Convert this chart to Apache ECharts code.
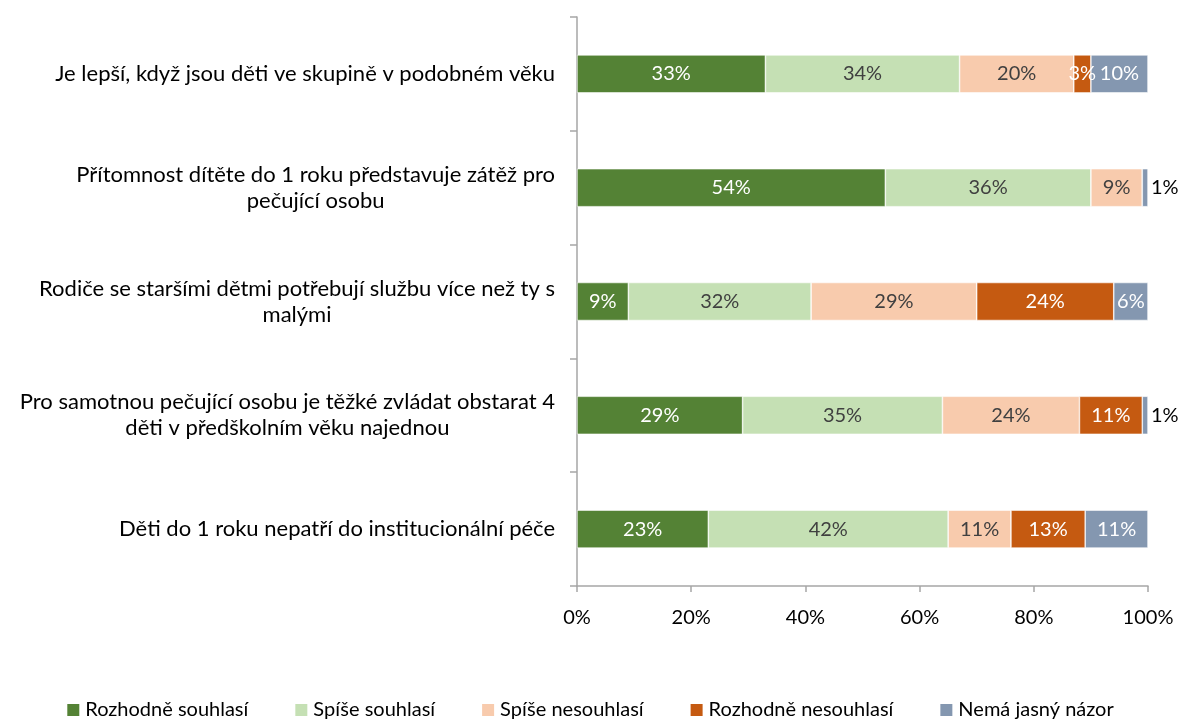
<!DOCTYPE html>
<html>
<head>
<meta charset="utf-8">
<script src="https://cdn.jsdelivr.net/npm/echarts@6/dist/echarts.min.js"></script>
<style>
html,body{margin:0;padding:0;background:#fff;}
#chart{width:1179px;height:720px;}
</style>
</head>
<body>
<div id="chart"></div>
<script>
var categories = [
	'Je lepší, když jsou děti ve skupině v podobném věku',
	'Přítomnost dítěte do 1 roku představuje zátěž pro\npečující osobu',
	'Rodiče se staršími dětmi potřebují službu více než ty s\nmalými',
	'Pro samotnou pečující osobu je těžké zvládat obstarat 4\nděti v předškolním věku najednou',
	'Děti do 1 roku nepatří do institucionální péče'
];
var seriesNames = ['Rozhodně souhlasí','Spíše souhlasí','Spíše nesouhlasí','Rozhodně nesouhlasí','Nemá jasný názor'];
var rozhodneSouhlasi   = [33, 54, 9, 29, 23];
var spiseSouhlasi      = [34, 36, 32, 35, 42];
var spiseNesouhlasi    = [20, 9, 29, 24, 11];
var rozhodneNesouhlasi = [3, 0, 24, 11, 13];
var nemaNazor          = [10, 1, 6, 1, 11];
var xTicks = [0, 20, 40, 60, 80, 100];

var colors = ['#548235','#c5e0b4','#f8cbad','#c55a11','#8497b0'];
var labelColors = ['#ffffff','#404040','#404040','#ffffff','#ffffff'];
var FONT = 'Lato';

var chart = echarts.init(document.getElementById('chart'));
var allData = [rozhodneSouhlasi, spiseSouhlasi, spiseNesouhlasi, rozhodneNesouhlasi, nemaNazor];

var series = [];
for (var i = 0; i < allData.length; i++) {
	var items = [];
	for (var j = 0; j < allData[i].length; j++) {
		var v = allData[i][j];
		var item = {value: v};
		// tiny slices get their label outside the bar
		if (i == 4 && v <= 1) {
			item.label = {position: 'right', color: '#000000', distance: 3};
		}
		items.push(item);
	}
	series.push({
		name: seriesNames[i],
		type: 'bar',
		stack: 'total',
		barWidth: 38,
		data: items,
		itemStyle: {color: colors[i], borderColor: '#ffffff', borderWidth: 0.6},
		label: {
			show: true,
			position: 'inside',
			color: labelColors[i],
			fontFamily: FONT,
			fontSize: 20,
			formatter: function(p){ return p.value > 0 ? p.value + '%' : ''; }
		}
	});
}

var option = {
	animation: false,
	textStyle: {fontFamily: FONT},
	grid: {left: 577, right: 31, top: 17, bottom: 134},
	legend: {
		top: 695,
		left: 'center',
		itemWidth: 14,
		itemHeight: 14,
		itemGap: 45,
		icon: 'rect',
		textStyle: {fontSize: 20, color: '#000', fontFamily: FONT},
		data: seriesNames
	},
	xAxis: {
		type: 'value',
		min: xTicks[0],
		max: xTicks[xTicks.length - 1],
		interval: 20,
		splitLine: {show: false},
		axisLine: {show: true, lineStyle: {color: '#a6a6a6', width: 1.5}},
		axisTick: {show: true, length: 6, lineStyle: {color: '#a6a6a6', width: 1.5}},
		axisLabel: {fontSize: 20, color: '#000', margin: 22, fontFamily: FONT, formatter: '{value}%'}
	},
	yAxis: {
		type: 'category',
		inverse: true,
		data: categories,
		axisLine: {show: true, lineStyle: {color: '#a6a6a6', width: 1.5}},
		axisTick: {show: true, length: 7, lineStyle: {color: '#a6a6a6', width: 1.5}},
		axisLabel: {
			margin: 22,
			color: '#000',
			fontFamily: FONT,
			fontSize: 22,
			lineHeight: 26,
			formatter: function(v){
				return v.split('\n').map(function(s){ return '{c|' + s + '}'; }).join('\n');
			},
			rich: {c: {align: 'center', fontSize: 22, lineHeight: 26, fontFamily: FONT, color: '#000'}}
		}
	},
	series: series
};
chart.setOption(option);
</script>
</body>
</html>
